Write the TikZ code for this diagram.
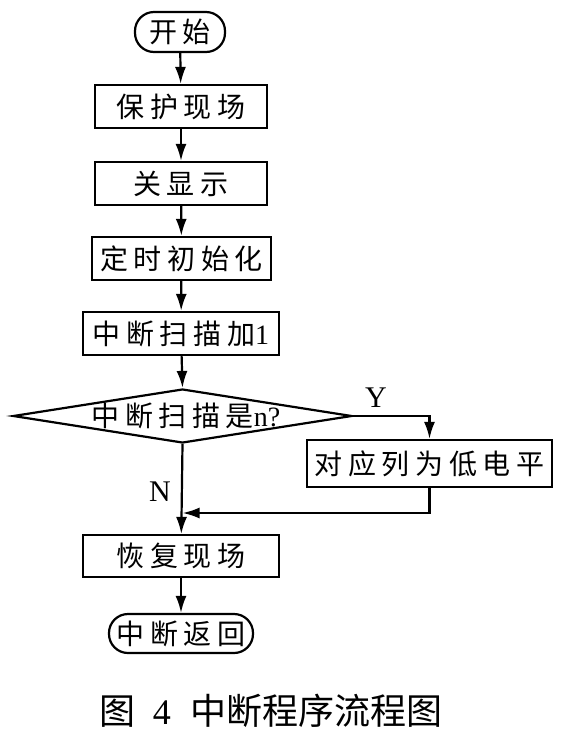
\documentclass[tikz,border=0pt]{standalone}
\usepackage{fontspec}
\setmainfont{Liberation Serif}
\newfontfamily\cjk[LetterSpace=20]{Noto Sans CJK SC}
\newfontfamily\cjkcap{Noto Sans CJK SC}
\usetikzlibrary{arrows.meta,shapes.geometric}

\tikzset{
  flowline/.style={line width=2.2pt, -{Latex[length=17pt,width=11pt]}},
  procbox/.style={draw, line width=2.2pt, minimum height=43pt, inner sep=0pt,
    font=\fontsize{28pt}{32pt}\selectfont},
  termbox/.style={procbox, rounded corners=19pt},
  ynlabel/.style={font=\fontsize{30pt}{32pt}\selectfont},
}

\begin{document}
\begin{tikzpicture}[x=1pt, y=-1pt]
  \useasboundingbox (0,0) rectangle (572,737);

  \node[termbox, minimum width=90pt, minimum height=40pt] (start) at (180,32) {\cjk 开始};
  \node[procbox, minimum width=172pt] (save) at (181,106.5) {\cjk 保护现场};
  \node[procbox, minimum width=172pt] (dispoff) at (181,183.5) {\cjk 关显示};
  \node[procbox, minimum width=179pt] (timer) at (181.5,258.5) {\cjk 定时初始化};
  \node[procbox, minimum width=196pt] (scan) at (181,333.5) {{\cjk 中断扫描加}1};

  \node[diamond, draw, line width=2.2pt, aspect=6, inner sep=0pt,
    minimum width=339pt, minimum height=54pt] (scanq) at (182.5,416) {};
  \node[font=\fontsize{28pt}{32pt}\selectfont] (scanqtext) at (186,416) {{\cjk 中断扫描是}n?};

  \node[procbox, minimum width=245pt, minimum height=47pt] (lowcol) at (429.5,463.5) {\cjk 对应列为低电平};
  \node[procbox, minimum width=196pt, minimum height=42pt] (restore) at (181,556) {\cjk 恢复现场};
  \node[termbox, minimum width=144pt, minimum height=39pt] (ret) at (181,633.5) {\cjk 中断返回};

  \node[ynlabel] (ylab) at (376,398) {Y};
  \node[ynlabel] (nlab) at (160,492) {N};

  \coordinate (merge) at (scanq.south |- 0,513);

  \draw[flowline] (start) -- (save);
  \draw[flowline] (save) -- (dispoff);
  \draw[flowline] (dispoff) -- (timer);
  \draw[flowline] (timer) -- (scan);
  \draw[flowline] (scan) -- (scanq.north);
  \draw[flowline] (scanq.east) -| (lowcol.north);
  \draw[flowline] (lowcol.south) |- (merge);
  \draw[flowline] (scanq.south) -- (restore);
  \draw[flowline] (restore) -- (ret);

  \node[font=\fontsize{36pt}{38pt}\selectfont\cjkcap] (caption) at (271,711)
    {图\hspace{18pt}{\rmfamily 4}\hspace{20pt}中断程序流程图};
\end{tikzpicture}
\end{document}
